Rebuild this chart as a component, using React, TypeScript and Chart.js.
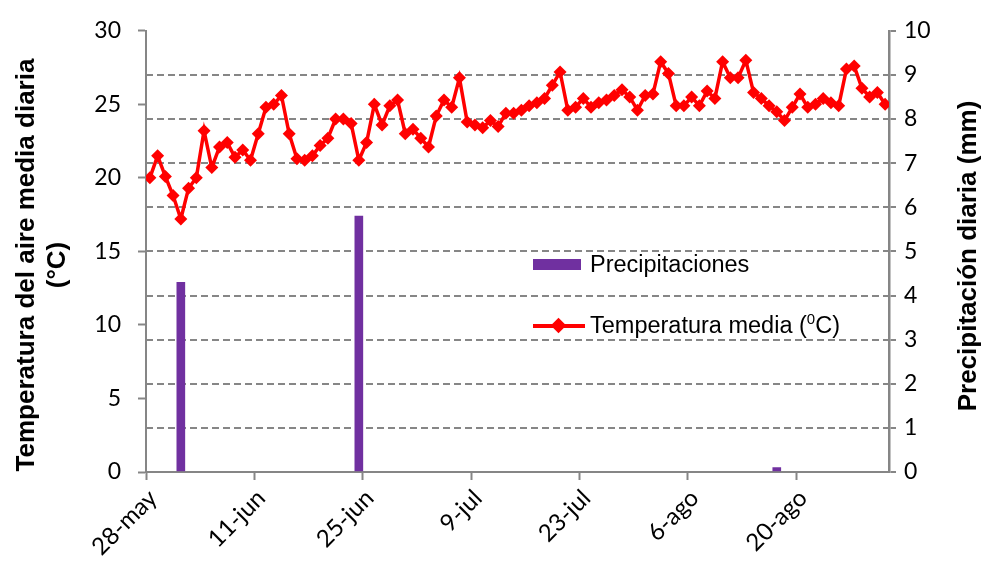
import React, { useEffect, useRef } from "react";
import { Chart, registerables } from "chart.js";

Chart.register(...registerables);

const TICK_DAYS = [0, 14, 28, 42, 56, 70, 84];
const TICK_LABELS = ["28-may", "11-jun", "25-jun", "9-jul", "23-jul", "6-ago", "20-ago"];
const TOTAL_DAYS = 96;

// Daily mean air temperature (°C), from 28-may onwards
const TEMP = [
  20.0, 21.5, 20.1, 18.8, 17.2, 19.3, 20.0, 23.2, 20.7, 22.1,
  22.4, 21.4, 21.9, 21.2, 23.0, 24.8, 25.0, 25.6, 23.0, 21.3,
  21.2, 21.5, 22.2, 22.7, 24.0, 24.0, 23.7, 21.2, 22.4, 25.0,
  23.6, 24.9, 25.3, 23.0, 23.3, 22.7, 22.1, 24.2, 25.3, 24.8,
  26.8, 23.8, 23.6, 23.4, 23.9, 23.5, 24.4, 24.4, 24.6, 24.9,
  25.1, 25.4, 26.3, 27.2, 24.6, 24.8, 25.4, 24.8, 25.1, 25.3,
  25.6, 26.0, 25.5, 24.6, 25.6, 25.7, 27.9, 27.1, 24.9, 24.9,
  25.5, 24.9, 25.9, 25.4, 27.9, 26.8, 26.8, 28.0, 25.8, 25.4,
  24.9, 24.5, 23.9, 24.8, 25.7, 24.8, 25.0, 25.4, 25.1, 24.9,
  27.4, 27.6, 26.1, 25.5, 25.8, 25.0,
];

// Daily precipitation (mm): day index from 28-may and amount
const PRECIP_DAYS = [4, 27, 81];
const PRECIP_MM = [4.3, 5.8, 0.1];

const GRAY = "#868686";
const PURPLE = "#7030A0";
const RED = "#FF0000";

export default function App() {
  const canvasRef = useRef<HTMLCanvasElement | null>(null);

  useEffect(() => {
    document.body.style.margin = "0";
    const canvas = canvasRef.current;
    if (!canvas) return;
    const tickFont = { family: "Lato, 'Liberation Sans', sans-serif", size: 23 };
    const chart = new Chart(canvas, {
      type: "bar",
      data: {
        datasets: [
          {
            type: "line",
            label: "Temperatura media (⁰C)",
            data: TEMP.map((t, i) => ({ x: i + 0.5, y: t })),
            yAxisID: "y",
            borderColor: RED,
            backgroundColor: RED,
            borderWidth: 3.5,
            pointStyle: "rectRot",
            pointRadius: 6.5,
            pointBorderWidth: 0,
            pointBackgroundColor: RED,
            tension: 0,
            order: 0,
          } as any,
          {
            type: "bar",
            label: "Precipitaciones",
            data: PRECIP_DAYS.map((d, k) => ({ x: d + 0.5, y: PRECIP_MM[k] })),
            yAxisID: "y1",
            backgroundColor: PURPLE,
            barThickness: 8,
            borderWidth: 0,
            order: 1,
          } as any,
        ],
      },
      options: {
        animation: false,
        responsive: false,
        maintainAspectRatio: false,
        layout: { padding: { top: 25, left: 0, right: 0, bottom: 0 } },
        plugins: { legend: { display: false }, tooltip: { enabled: false } },
        scales: {
          x: {
            type: "linear",
            min: 0,
            max: TOTAL_DAYS,
            offset: false,
            afterBuildTicks: (s: any) => {
              s.ticks = TICK_DAYS.map((v) => ({ value: v }));
            },
            afterFit: (s: any) => {
              s.height = 92;
            },
            grid: {
              offset: false,
              drawOnChartArea: false,
              drawTicks: true,
              tickLength: 8,
              tickColor: GRAY,
              tickWidth: 2,
              color: GRAY,
            },
            border: { color: GRAY, width: 2 },
            ticks: {
              autoSkip: false,
              maxRotation: 45,
              minRotation: 45,
              padding: 4,
              labelOffset: 7,
              color: "#000",
              font: { family: "Lato, 'Liberation Sans', sans-serif", size: 24 },
              callback: (v: any) => {
                const k = TICK_DAYS.indexOf(Number(v));
                return k >= 0 ? TICK_LABELS[k] : "";
              },
            },
          },
          y: {
            type: "linear",
            position: "left",
            min: 0,
            max: 30,
            afterFit: (s: any) => {
              s.width = 146;
            },
            grid: {
              drawOnChartArea: false,
              drawTicks: true,
              tickLength: 8,
              tickColor: GRAY,
              tickWidth: 2,
              color: GRAY,
            },
            border: { color: GRAY, width: 2 },
            ticks: { stepSize: 5, padding: 17, color: "#000", font: tickFont },
          },
          y1: {
            type: "linear",
            position: "right",
            min: 0,
            max: 10,
            afterFit: (s: any) => {
              s.width = 92;
            },
            grid: {
              drawOnChartArea: true,
              drawTicks: true,
              tickLength: 7,
              tickColor: GRAY,
              tickWidth: 2,
              tickBorderDash: [],
              color: (ctx: any) =>
                ctx.tick && (ctx.tick.value === 10 || ctx.tick.value === 0) ? "rgba(0,0,0,0)" : GRAY,
              lineWidth: 2,
            },
            border: { color: GRAY, width: 2.5, dash: [7, 4] },
            ticks: { stepSize: 1, padding: 8, color: "#000", font: tickFont },
          },
        },
      } as any,
    });
    return () => chart.destroy();
  }, []);

  const titleFont = "bold 26px 'Liberation Sans', Arial, sans-serif";
  const legendFont = "23.5px 'Liberation Sans', Arial, sans-serif";

  return (
    <div style={{ position: "relative", width: 981, height: 564, overflow: "hidden", background: "#fff" }}>
      <canvas ref={canvasRef} width={981} height={564} style={{ display: "block", width: 981, height: 564 }} />
      {/* Left axis title */}
      <div
        style={{
          position: "absolute",
          left: 38 - 240,
          top: 265 - 28,
          width: 480,
          height: 56,
          lineHeight: "28px",
          font: titleFont,
          textAlign: "center",
          whiteSpace: "nowrap",
          transform: "rotate(-90deg)",
          transformOrigin: "center",
          color: "#000",
        }}
      >
        Temperatura del aire media diaria
        <br />
        (°C)
      </div>
      {/* Right axis title */}
      <div
        style={{
          position: "absolute",
          left: 966 - 200,
          top: 256 - 14,
          width: 400,
          height: 28,
          lineHeight: "28px",
          font: titleFont,
          textAlign: "center",
          whiteSpace: "nowrap",
          transform: "rotate(-90deg)",
          transformOrigin: "center",
          color: "#000",
        }}
      >
        Precipitación diaria (mm)
      </div>
      {/* Legend */}
      <div style={{ position: "absolute", left: 533, top: 259, width: 48, height: 11, background: PURPLE }} />
      <div
        style={{
          position: "absolute",
          left: 590,
          top: 251,
          lineHeight: "28px",
          font: legendFont,
          whiteSpace: "nowrap",
          color: "#000",
        }}
      >
        Precipitaciones
      </div>
      <div style={{ position: "absolute", left: 533, top: 324, width: 52, height: 4, background: RED }} />
      <div
        style={{
          position: "absolute",
          left: 553,
          top: 320,
          width: 11,
          height: 11,
          background: RED,
          transform: "rotate(45deg)",
        }}
      />
      <div
        style={{
          position: "absolute",
          left: 590,
          top: 312,
          lineHeight: "28px",
          font: legendFont,
          whiteSpace: "nowrap",
          color: "#000",
        }}
      >
        Temperatura media (
        <span style={{ fontSize: 15, position: "relative", top: -9 }}>0</span>
        C)
      </div>
    </div>
  );
}
